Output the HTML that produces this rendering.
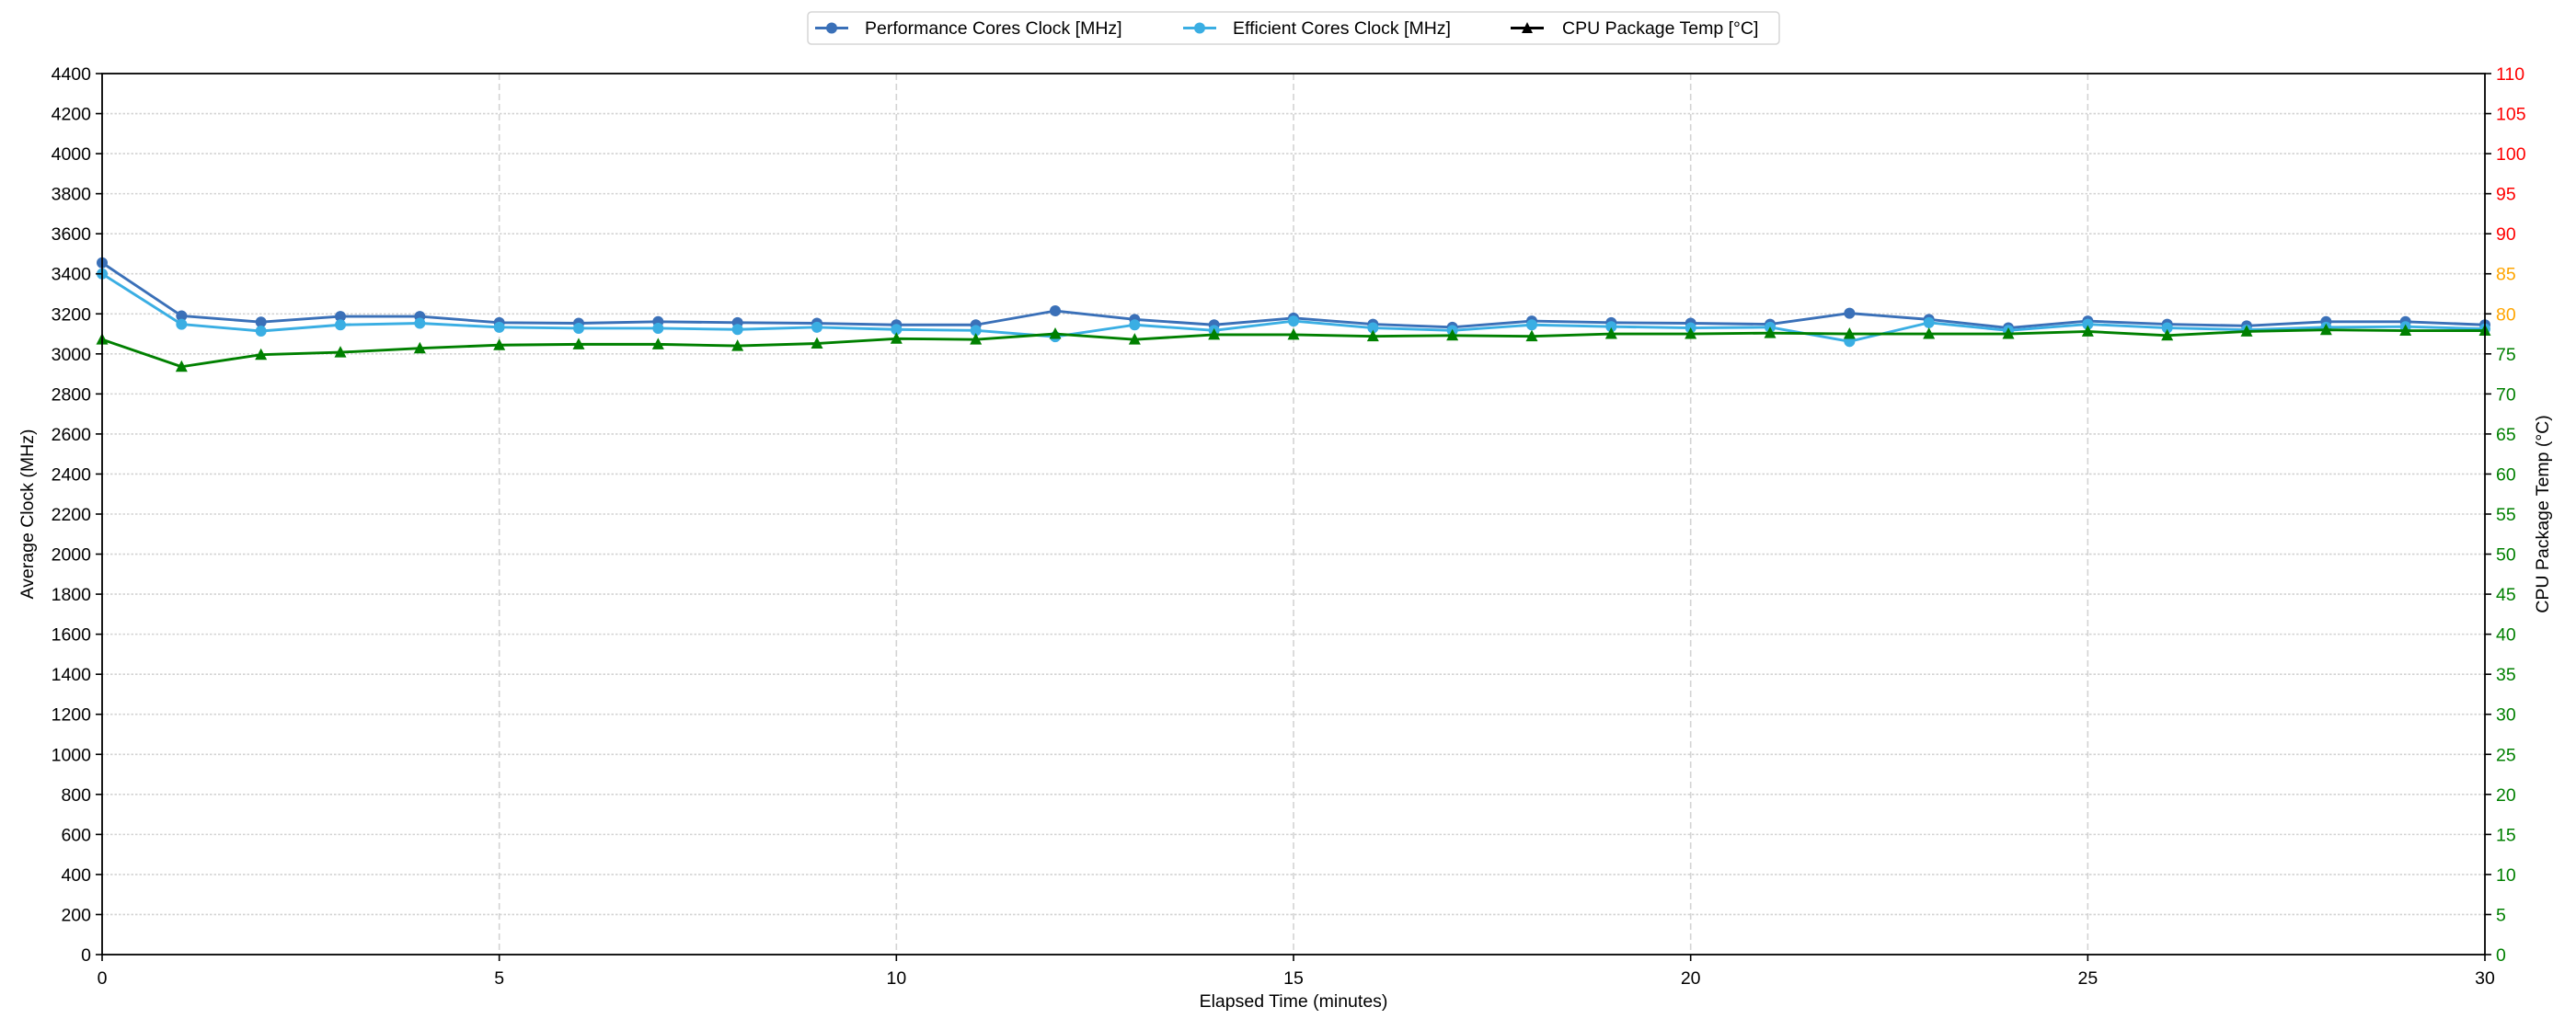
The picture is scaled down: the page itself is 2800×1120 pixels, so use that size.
<!DOCTYPE html>
<html><head><meta charset="utf-8"><style>
html,body{margin:0;padding:0;background:#fff;}
svg{display:block;font-family:"Liberation Sans","DejaVu Sans",sans-serif;}
</style></head><body>
<svg id="chart" width="2800" height="1120" viewBox="0 0 2800 1120" xmlns="http://www.w3.org/2000/svg">
<rect x="0" y="0" width="2800" height="1120" fill="#fff"/>
<g id="grid"></g>
<g id="series"></g>
<g id="axes"></g>
<text x="1406" y="1095" font-size="19.5" text-anchor="middle">Elapsed Time (minutes)</text>
<text transform="translate(36,559) rotate(-90)" font-size="19.5" text-anchor="middle">Average Clock (MHz)</text>
<text transform="translate(2770,559) rotate(-90)" font-size="19.5" text-anchor="middle">CPU Package Temp (°C)</text>
<g>
<rect x="878" y="13" width="1056" height="35" rx="4" fill="#fff" stroke="#d5d5d5" stroke-width="1.5"/>
<g>
<line x1="886" y1="30.5" x2="922" y2="30.5" stroke="#3a70b8" stroke-width="2.9"/><circle cx="904" cy="30.5" r="6" fill="#3a70b8"/>
<text x="940" y="37" font-size="19.5">Performance Cores Clock [MHz]</text></g>
<g>
<line x1="1286" y1="30.5" x2="1322" y2="30.5" stroke="#3aaee3" stroke-width="2.9"/><circle cx="1304" cy="30.5" r="6" fill="#3aaee3"/>
<text x="1340" y="37" font-size="19.5">Efficient Cores Clock [MHz]</text></g>
<g>
<line x1="1642" y1="30.5" x2="1678" y2="30.5" stroke="#000" stroke-width="2.9"/><polygon points="1660,24 1666,36 1654,36" fill="#000"/>
<text x="1698" y="37" font-size="19.5">CPU Package Temp [°C]</text></g>
</g>
</svg>
<script>
const minutes = [0,1,2,3,4,5,6,7,8,9,10,11,12,13,14,15,16,17,18,19,20,21,22,23,24,25,26,27,28,29,30];
const perfClock = [3455,3190,3159,3187,3187,3156,3153,3161,3156,3153,3145,3145,3215,3172,3145,3179,3148,3133,3164,3156,3153,3148,3203,3172,3130,3164,3148,3140,3161,3161,3145];
const effClock = [3400,3148,3114,3145,3153,3133,3128,3128,3122,3133,3122,3117,3086,3145,3117,3164,3130,3117,3145,3136,3130,3133,3062,3156,3117,3148,3130,3120,3133,3136,3125];
const cpuTemp = [76.8,73.4,74.9,75.2,75.7,76.1,76.2,76.2,76.0,76.3,76.9,76.8,77.5,76.8,77.4,77.4,77.2,77.3,77.2,77.5,77.5,77.6,77.5,77.5,77.5,77.8,77.3,77.8,78.0,77.9,77.9];
const xTicks = [0,5,10,15,20,25,30];
const yTicks = [0,200,400,600,800,1000,1200,1400,1600,1800,2000,2200,2400,2600,2800,3000,3200,3400,3600,3800,4000,4200,4400];
const tempTicks = [0,5,10,15,20,25,30,35,40,45,50,55,60,65,70,75,80,85,90,95,100,105,110];

const L=111, R=2701, T=80, B=1038;
const NS='http://www.w3.org/2000/svg';
const xs = v => L + (v-0)/(30-0)*(R-L);
const ys = v => B - v/4400*(B-T);
const yt = v => B - v/110*(B-T);
function mk(tag, attrs, parent){const e=document.createElementNS(NS,tag);for(const k in attrs)e.setAttribute(k,attrs[k]);parent.appendChild(e);return e;}
const grid=document.getElementById('grid'), axes=document.getElementById('axes'), ser=document.getElementById('series');

yTicks.forEach(v=>{
  const y=ys(v);
  if(v>0&&v<4400){const g=mk('line',{x1:L,x2:R,y1:y,y2:y,stroke:'#d3d3d3','stroke-width':1.6,'stroke-dasharray':'2.5,2'},grid);
  
  }
  mk('line',{x1:L-7,x2:L,y1:y,y2:y,stroke:'#000','stroke-width':1.6},axes);
  const t=mk('text',{x:L-12,y:y+7,'font-size':19.5,'text-anchor':'end'},axes);t.textContent=v;
  
  
});
tempTicks.forEach(v=>{
  const y=yt(v);
  mk('line',{x1:R,x2:R+7,y1:y,y2:y,stroke:'#000','stroke-width':1.6},axes);
  const col = v>=90?'#ff0000':(v>=80?'#ffa500':'#008000');
  const t=mk('text',{x:R+12,y:y+7,'font-size':19.5,fill:col},axes);t.textContent=v;
  
  
});
xTicks.forEach(v=>{
  const x=xs(v);
  if(v>0&&v<30){const g=mk('line',{x1:x,x2:x,y1:T,y2:B,stroke:'#d3d3d3','stroke-width':1.6,'stroke-dasharray':'7,4'},grid);
  
  }
  mk('line',{x1:x,x2:x,y1:B,y2:B+7,stroke:'#000','stroke-width':1.6},axes);
  const t=mk('text',{x:x,y:B+32,'font-size':19.5,'text-anchor':'middle'},axes);t.textContent=v;
  
  
});
const frame=mk('rect',{x:L,y:T,width:R-L,height:B-T,fill:'none',stroke:'#000','stroke-width':1.8},axes);



function drawSeries(vals, scale, color, marker, name){
  const pts=vals.map((v,i)=>xs(minutes[i])+','+scale(v)).join(' ');
  const pl=mk('polyline',{points:pts,fill:'none',stroke:color,'stroke-width':2.9,'stroke-linejoin':'round'},ser);
  
  
  vals.forEach((v,i)=>{
    const x=xs(minutes[i]), y=scale(v);
    let m;
    if(marker==='circle') m=mk('circle',{cx:x,cy:y,r:6,fill:color},ser);
    else m=mk('polygon',{points:`${x},${y-7} ${x+6.5},${y+5.5} ${x-6.5},${y+5.5}`,fill:color},ser);
    
    
  });
}
drawSeries(perfClock, ys, '#3a70b8', 'circle', 'performance-clock');
drawSeries(effClock, ys, '#3aaee3', 'circle', 'efficient-clock');
drawSeries(cpuTemp, yt, '#008000', 'triangle', 'cpu-temp');
</script>
</body></html>
